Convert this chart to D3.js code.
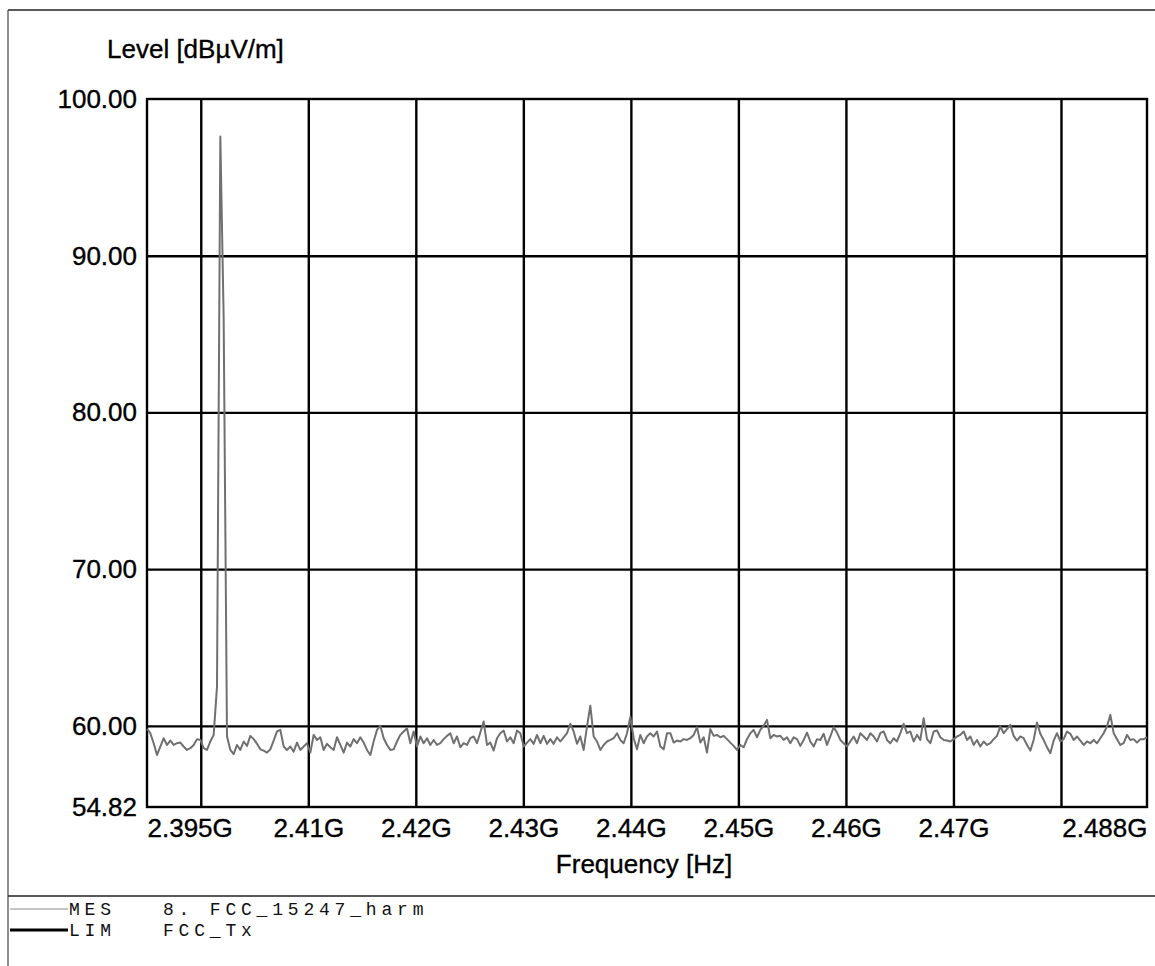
<!DOCTYPE html>
<html>
<head>
<meta charset="utf-8">
<script src="https://d3js.org/d3.v7.min.js"></script>
<style>
  body { margin: 0; background: #fff; }
  .tick line { stroke: #000; }
  .domain { display: none; }
</style>
</head>
<body>
<script>

var W = 1155, H = 966;

// sweep settings of the receiver
var sweepStart = 2.395e9;
var sweepStop = 2.488e9;

var mesPart1 = [
  59.8, 59.53, 58.89, 58.14, 58.68, 59.21, 58.78, 59.06, 58.78, 58.89,
  58.93, 58.68, 58.46, 58.57, 58.78, 59.15, 59.10, 58.57, 58.46, 59.0,
  59.42, 62.5, 97.6, 86.0, 59.32, 58.46, 58.2, 58.78, 58.46, 59.0,
  58.72, 59.36, 59.15, 58.85, 58.5, 58.42, 58.29, 58.5, 59.06, 59.64,
  59.74, 58.68, 58.46, 58.68, 58.35, 58.93, 58.46, 58.68, 58.89, 58.3,
  59.42, 59.10, 59.27, 58.46, 58.85, 58.63, 58.46, 59.27, 58.78, 58.29,
  58.93, 58.68, 59.15, 58.89, 59.27, 58.93, 58.46, 58.14, 59.0, 59.74,
  60.0, 59.21, 58.78, 58.46, 58.5, 59.0, 59.42
];
var mesPart2 = [
  59.64, 59.85, 58.89, 59.64, 58.68, 59.32, 58.89, 59.21, 58.78, 59.10,
  58.78, 58.89, 59.15, 59.36, 59.53, 58.89, 59.32, 58.63, 58.89, 58.78,
  59.21, 59.32, 58.89, 59.57, 60.28, 58.78, 58.93, 58.42, 59.21, 59.53,
  59.7, 59.0, 59.27, 58.89, 59.7, 59.53, 58.68, 58.93, 59.15, 58.85,
  59.42, 58.89, 59.36, 58.85, 59.15, 58.85, 59.27, 59.0, 59.27, 59.53,
  60.13, 59.64, 58.85, 59.32, 58.46, 59.96, 61.28, 59.32, 59.0, 58.46,
  58.78, 59.0, 59.10, 59.21, 59.53, 59.10, 58.89, 59.53, 60.56, 59.21,
  58.5, 59.42, 58.89, 59.32, 59.53, 59.32
];
var mesPart3 = [
  59.64, 58.68, 58.5, 59.53, 59.53, 58.93, 59.06, 59.0, 59.15, 59.10,
  59.21, 59.42, 59.91, 58.93, 59.27, 58.29, 59.79, 59.36, 59.42, 59.27,
  59.36, 59.15, 58.93, 58.72, 58.46, 58.78, 58.63, 59.15, 59.53, 59.74,
  59.27, 59.74, 60.0, 60.38, 59.21, 59.42, 59.32, 59.36, 59.10, 59.27,
  58.89, 59.27, 59.15, 58.72, 59.10, 59.57, 59.0, 58.68, 59.15, 59.10,
  59.49, 58.78, 59.32, 59.91, 59.57, 59.10, 58.89, 58.68, 59.0, 59.32,
  58.89, 59.53, 59.32, 59.10, 59.53, 59.32, 59.0, 59.53, 59.64, 59.10,
  58.89, 59.21, 59.0, 59.53, 60.13
];
var mesPart4 = [
  59.53, 59.64, 59.0, 59.42, 59.10, 60.49, 59.15, 58.89, 59.64, 59.7,
  59.27, 59.10, 59.06, 59.0, 59.15, 59.32, 59.42, 59.64, 59.10, 59.32,
  58.78, 59.10, 58.68, 59.0, 58.78, 58.89, 59.15, 59.36, 59.96, 59.53,
  59.79, 60.06, 59.36, 59.06, 59.32, 59.21, 58.78, 58.42, 59.10, 60.21,
  59.49, 59.10, 58.63, 58.25, 59.06, 59.53, 59.0, 59.15, 59.64, 59.49,
  59.10, 59.32, 59.06, 58.78, 59.0, 58.89, 59.10, 58.89, 59.21, 59.53,
  59.96, 60.7, 59.53, 59.15, 58.78, 58.89, 59.42, 59.10, 59.15, 58.93,
  59.15, 59.15, 59.27
];
var mesLevels = mesPart1.concat(mesPart2, mesPart3, mesPart4);

// axis values
var gridFreqs = [2.40e9, 2.41e9, 2.42e9, 2.43e9, 2.44e9, 2.45e9, 2.46e9, 2.47e9, 2.48e9];
var freqLabels = [2.395e9, 2.41e9, 2.42e9, 2.43e9, 2.44e9, 2.45e9, 2.46e9, 2.47e9, 2.488e9];
var levelTicks = [54.82, 60, 70, 80, 90, 100];
var gridLevels = [60, 70, 80, 90];

// legend rows
var legendRows = [
  {tag: "MES", name: "8. FCC_15247_harm"},
  {tag: "LIM", name: "FCC_Tx"}
];

var plot = {left: 147, right: 1147, top: 99, bottom: 807};

var svg = d3.select("body").append("svg").attr("width", W).attr("height", H);
svg.append("rect").attr("width", W).attr("height", H).attr("fill", "#fff");

var x = d3.scaleLinear().domain([sweepStart, sweepStop]).range([plot.left, plot.right]);
var y = d3.scaleLinear().domain([54.82, 100]).range([plot.bottom, plot.top]);

var sweepStep = (sweepStop - sweepStart) / (mesLevels.length - 1);
var mes = mesLevels.map(function(v, i){ return {f: sweepStart + i * sweepStep, v: v}; });

// outer frame of the report page
svg.append("line").attr("x1", 8).attr("x2", W).attr("y1", 10).attr("y2", 10)
  .attr("stroke", "#222").attr("stroke-width", 1.5);
svg.append("line").attr("x1", 8).attr("x2", 8).attr("y1", 10).attr("y2", H)
  .attr("stroke", "#444").attr("stroke-width", 1.2);
svg.append("line").attr("x1", 8).attr("x2", W).attr("y1", 896).attr("y2", 896)
  .attr("stroke", "#222").attr("stroke-width", 1.5);

var font = "'Liberation Sans', Arial, sans-serif";

// grid
svg.append("g").attr("transform", "translate(0," + plot.bottom + ")")
  .call(d3.axisBottom(x).tickValues(gridFreqs).tickSize(-(plot.bottom - plot.top)).tickFormat(""))
  .selectAll(".tick line").attr("stroke-width", 2.4);
svg.append("g").attr("transform", "translate(" + plot.left + ",0)")
  .call(d3.axisLeft(y).tickValues(gridLevels).tickSize(-(plot.right - plot.left)).tickFormat(""))
  .selectAll(".tick line").attr("stroke-width", 2.4);

svg.append("rect")
  .attr("x", plot.left).attr("y", plot.top)
  .attr("width", plot.right - plot.left).attr("height", plot.bottom - plot.top)
  .attr("fill", "none").attr("stroke", "#000").attr("stroke-width", 2.4);

// measurement trace
var line = d3.line().x(function(d){ return x(d.f); }).y(function(d){ return y(d.v); });
svg.append("path").datum(mes)
  .attr("d", line)
  .attr("fill", "none")
  .attr("stroke", "#707070")
  .attr("stroke-width", 2)
  .attr("stroke-linejoin", "round");

// x labels
var fmtG = function(d){ return (+(d / 1e9).toFixed(3)) + "G"; };
var xAxis = svg.append("g").attr("transform", "translate(0," + plot.bottom + ")")
  .call(d3.axisBottom(x).tickValues(freqLabels).tickSize(0).tickPadding(12).tickFormat(fmtG));
xAxis.selectAll("text")
  .attr("font-family", font).attr("font-size", "26px").attr("fill", "#000")
  .attr("stroke", "#000").attr("stroke-width", 0.35)
  .attr("text-anchor", function(d, i){ return i === 0 ? "start" : (i === freqLabels.length - 1 ? "end" : "middle"); });

// y labels
var yAxis = svg.append("g").attr("transform", "translate(" + plot.left + ",0)")
  .call(d3.axisLeft(y).tickValues(levelTicks).tickSize(0).tickPadding(10).tickFormat(d3.format(".2f")));
yAxis.selectAll("text")
  .attr("font-family", font).attr("font-size", "26px").attr("fill", "#000")
  .attr("stroke", "#000").attr("stroke-width", 0.35);

svg.append("text").attr("x", 107).attr("y", 58)
  .attr("font-family", font).attr("font-size", "26px")
  .attr("stroke", "#000").attr("stroke-width", 0.35)
  .text("Level [dB\u00b5V/m]");

svg.append("text").attr("x", (plot.left + plot.right) / 2 - 3).attr("y", 873)
  .attr("text-anchor", "middle")
  .attr("font-family", font).attr("font-size", "26px")
  .attr("stroke", "#000").attr("stroke-width", 0.35)
  .text("Frequency [Hz]");

// legend
var mono = "'Liberation Mono', 'Courier New', monospace";
var leg = svg.selectAll(".leg").data(legendRows).enter().append("g")
  .attr("transform", function(d, i){ return "translate(0," + (909 + i * 21) + ")"; });
leg.append("line").attr("x1", 10).attr("x2", 68).attr("y1", 0).attr("y2", 0)
  .attr("stroke", function(d, i){ return i === 0 ? "#8a8a8a" : "#000"; })
  .attr("stroke-width", function(d, i){ return i === 0 ? 1.2 : 3; });
leg.append("text").attr("x", 69).attr("y", 6)
  .attr("font-family", mono).attr("font-size", "18px").attr("letter-spacing", "4.8px")
  .attr("fill", "#111")
  .text(function(d){ return d.tag; });
leg.append("text").attr("x", 163).attr("y", 6)
  .attr("font-family", mono).attr("font-size", "18px").attr("letter-spacing", "4.8px")
  .attr("fill", "#111")
  .text(function(d){ return d.name; });

</script>
</body>
</html>
